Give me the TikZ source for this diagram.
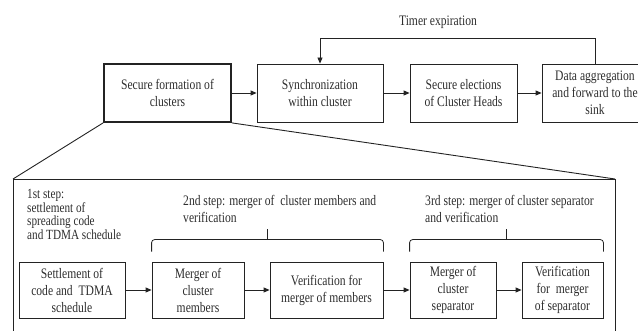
\documentclass[tikz,border=0pt]{standalone}
\usepackage{fontspec}
\setmainfont{Liberation Serif}[FakeStretch=0.8]
\usetikzlibrary{calc,arrows.meta}
\definecolor{inkgray}{RGB}{35, 35, 35}
\definecolor{textgray}{RGB}{45, 45, 45}

\begin{document}
\begin{tikzpicture}[
        x=1pt, y=-1pt,
        every node/.style={text=textgray, font=\fontsize{14.5}{17}\selectfont},
        phase/.style={draw=inkgray, line width=0.8pt, align=center, inner sep=0pt,
            minimum height=58pt},
        task/.style={draw=inkgray, line width=0.8pt, align=center, inner sep=0pt,
            minimum height=56pt},
        note/.style={align=left, inner sep=0pt, anchor=north west},
        flow/.style={draw=inkgray, line width=0.8pt, -{Triangle[length=6pt,width=5pt]}},
        bracket/.style={draw=inkgray, line width=0.8pt, rounded corners=3pt},
        zoomline/.style={draw=inkgray, line width=0.9pt}
    ]
    \path[use as bounding box, clip] (0,0) rectangle (638,331);

        \node[phase, line width=1.8pt, minimum width=127pt] (formation) at (167.5,93) {Secure formation of\\clusters};
        \node[phase, minimum width=126pt] (sync) at (320,93) {Synchronization\\within cluster};
        \node[phase, minimum width=107pt] (elect) at (463.5,93) {Secure elections\\of Cluster Heads};
        \node[phase, minimum width=106pt] (aggr) at (595,93) {Data aggregation\\and forward to the\\sink};
        \node (timer) at (438,22) {Timer expiration};
        \coordinate (loop) at (0,38);

        \draw[flow] (formation) -- (sync);
        \draw[flow] (sync) -- (elect);
        \draw[flow] (elect) -- (aggr);
        \draw[flow] (aggr.north) |- (loop -| sync.north) -- (sync.north);

        \coordinate (zoomleft) at (13,179);
        \coordinate (zoomright) at (615,179);
        \draw[zoomline] (formation.south west) -- (zoomleft);
        \draw[zoomline] (formation.south east) -- (zoomright);
        \draw[zoomline] (13,331) -- (zoomleft) -- (zoomright) -- (615,331);

        \node[note, font=\fontsize{14}{13.6}\selectfont] (first) at (27,189) {1st step:\\settlement of\\spreading code\\and TDMA schedule};
        \node[note] (second) at (183,195) {2nd step: merger of\ \ cluster members and\\verification};
        \node[note] (third) at (425,195) {3rd step: merger of cluster separator\\and verification};

        \node[task, minimum width=106pt] (settle) at (72,290) {Settlement of\\code and\ \ TDMA\\schedule};
        \node[task, minimum width=92pt] (mergemem) at (198,290) {Merger of\\cluster\\members};
        \node[task, minimum width=113pt] (verimem) at (326.5,290) {Verification for\\merger of members};
        \node[task, minimum width=86pt] (mergesep) at (453,290) {Merger of\\cluster\\separator};
        \node[task, minimum width=81pt] (verisep) at (562.5,290) {Verification\\for\ \ merger\\of separator};

        \draw[flow] (settle) -- (mergemem);
        \draw[flow] (mergemem) -- (verimem);
        \draw[flow] (verimem) -- (mergesep);
        \draw[flow] (mergesep) -- (verisep);

        \draw[bracket] ([yshift=10pt]mergemem.north west) -- ([yshift=22pt]mergemem.north west)
            -- ([yshift=22pt]verimem.north east) -- ([yshift=10pt]verimem.north east);
        \draw[bracket] ([yshift=10pt]mergesep.north west) -- ([yshift=22pt]mergesep.north west)
            -- ([yshift=22pt]verisep.north east) -- ([yshift=10pt]verisep.north east);
        \draw[zoomline, line width=0.8pt] ($([yshift=22pt]mergemem.north west)!0.5!([yshift=22pt]verimem.north east)$) -- ++(0,-11);
        \draw[zoomline, line width=0.8pt] ($([yshift=22pt]mergesep.north west)!0.5!([yshift=22pt]verisep.north east)$) -- ++(0,-11);
    \end{tikzpicture}
\end{document}
